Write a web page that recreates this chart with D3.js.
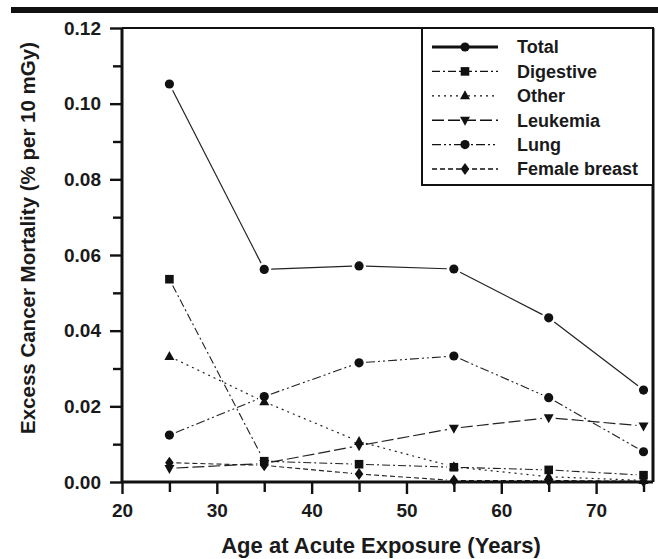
<!DOCTYPE html>
<html><head><meta charset="utf-8">
<script src="https://cdn.jsdelivr.net/npm/d3@7"></script>
<style>
html,body{margin:0;padding:0;background:#fff;}
svg{display:block;}
text{font-family:"Liberation Sans",Arial,sans-serif;font-weight:bold;fill:#1a1a1a;}
</style></head>
<body>
<script>
const ages = [25, 35, 45, 55, 65, 75];
const xTicks = [20, 30, 40, 50, 60, 70];
const yTicks = [0.00, 0.02, 0.04, 0.06, 0.08, 0.10, 0.12];
const yTickLabels = ["0.00", "0.02", "0.04", "0.06", "0.08", "0.10", "0.12"];
const seriesNames = ["Total", "Digestive", "Other", "Leukemia", "Lung", "Female breast"];
const total = [0.1052, 0.0562, 0.0571, 0.0563, 0.0434, 0.0243];
const digestive = [0.0536, 0.0055, 0.0047, 0.0039, 0.0032, 0.0018];
const other = [0.0332, 0.0212, 0.0107, 0.0040, 0.0014, 0.0004];
const leukemia = [0.0036, 0.0049, 0.0096, 0.0142, 0.0170, 0.0148];
const lung = [0.0124, 0.0226, 0.0315, 0.0333, 0.0223, 0.0080];
const femaleBreast = [0.0051, 0.0044, 0.0021, 0.0004, 0.0004, 0.0002];
const xLabel = "Age at Acute Exposure (Years)";
const yLabel = "Excess Cancer Mortality (% per 10 mGy)";

const W = 658, H = 559;
const M = {left: 122, right: 5, top: 28, bottom: 77};
const svg = d3.select("body").append("svg").attr("width", W).attr("height", H);

// top black rule
svg.append("rect").attr("x", 11).attr("y", 7).attr("width", W - 11).attr("height", 6).attr("fill", "#111");

const x = d3.scaleLinear().domain([20, 76]).range([M.left, W - M.right]);
const y = d3.scaleLinear().domain([0, 0.12]).range([H - M.bottom, M.top]);

const styles = [
  {data: total, dash: null, marker: "circle", lw: 1.2, legLw: 3},
  {data: digestive, dash: "8,3,2,3", marker: "square", lw: 1.1, legLw: 1.3},
  {data: other, dash: "2,4", marker: "triUp", lw: 1.2, legLw: 1.3},
  {data: leukemia, dash: "12,4", marker: "triDown", lw: 1.2, legLw: 1.6},
  {data: lung, dash: "9,3,2,3,2,3", marker: "circle", lw: 1.1, legLw: 1.3},
  {data: femaleBreast, dash: "5,3", marker: "diamond", lw: 1.1, legLw: 1.3}
];

function markerPath(type) {
  switch (type) {
    case "circle": return null;
    case "square": return "M-4.3,-4.3H4.3V4.3H-4.3Z";
    case "triUp": return "M0,-5.5L5,3.5L-5,3.5Z";
    case "triDown": return "M0,5.5L5,-3.5L-5,-3.5Z";
    case "diamond": return "M0,-6L4.3,0L0,6L-4.3,0Z";
  }
}
function drawMarker(g, type, cx, cy) {
  if (type === "circle") {
    g.append("circle").attr("cx", cx).attr("cy", cy).attr("r", 4.6).attr("fill", "#111");
  } else {
    g.append("path").attr("d", markerPath(type)).attr("transform", `translate(${cx},${cy})`).attr("fill", "#111");
  }
}

const plot = svg.append("g");
const gap = 7;
styles.forEach(s => {
  const pts = ages.map((a, i) => [x(a), y(s.data[i])]);
  for (let i = 0; i < pts.length - 1; i++) {
    const [x0, y0] = pts[i], [x1, y1] = pts[i + 1];
    const dx = x1 - x0, dy = y1 - y0, L = Math.hypot(dx, dy);
    if (L <= 2 * gap) continue;
    const ux = dx / L, uy = dy / L;
    plot.append("line")
      .attr("x1", x0 + ux * gap).attr("y1", y0 + uy * gap)
      .attr("x2", x1 - ux * gap).attr("y2", y1 - uy * gap)
      .attr("stroke", "#222").attr("stroke-width", s.lw)
      .attr("stroke-dasharray", s.dash);
  }
});
styles.forEach(s => {
  ages.forEach((a, i) => drawMarker(plot, s.marker, x(a), y(s.data[i])));
});

// axes
const xAxis = d3.axisBottom(x).tickValues(xTicks).tickSize(12).tickPadding(10).tickFormat(d3.format("d"));
const gx = svg.append("g").attr("transform", `translate(0,${H - M.bottom})`).call(xAxis);
const xMinor = d3.axisBottom(x).tickValues(ages).tickSize(10).tickFormat("");
const gx2 = svg.append("g").attr("transform", `translate(0,${H - M.bottom})`).call(xMinor);
const yAxis = d3.axisLeft(y).tickValues(yTicks).tickSize(12).tickPadding(9).tickFormat((d, i) => yTickLabels[i]);
const gy = svg.append("g").attr("transform", `translate(${M.left},0)`).call(yAxis);
const yMinor = d3.axisLeft(y).tickValues([0.01, 0.03, 0.05, 0.07, 0.09, 0.11]).tickSize(9).tickFormat("");
const gy2 = svg.append("g").attr("transform", `translate(${M.left},0)`).call(yMinor);
[gx, gx2, gy, gy2].forEach(g => {
  g.select(".domain").remove();
  g.selectAll(".tick line").attr("stroke", "#111").attr("stroke-width", 2.4);
  g.selectAll(".tick text").attr("font-size", 19).attr("font-family", "Liberation Sans, Arial, sans-serif").attr("font-weight", "bold").attr("fill", "#1a1a1a");
});

// frame
svg.append("line").attr("x1", M.left).attr("x2", W - M.right).attr("y1", H - M.bottom).attr("y2", H - M.bottom).attr("stroke", "#111").attr("stroke-width", 3);
svg.append("line").attr("x1", M.left).attr("x2", M.left).attr("y1", M.top).attr("y2", H - M.bottom).attr("stroke", "#111").attr("stroke-width", 3);
svg.append("line").attr("x1", M.left).attr("x2", W - M.right).attr("y1", M.top).attr("y2", M.top).attr("stroke", "#111").attr("stroke-width", 2);
svg.append("line").attr("x1", W - M.right).attr("x2", W - M.right).attr("y1", M.top).attr("y2", H - M.bottom).attr("stroke", "#111").attr("stroke-width", 3);

// legend
const lg = svg.append("g");
lg.append("rect").attr("x", 422).attr("y", M.top).attr("width", W - M.right - 422).attr("height", 157)
  .attr("fill", "#fff").attr("stroke", "#111").attr("stroke-width", 2);
styles.forEach((s, i) => {
  const ly = 47 + i * 24.4;
  lg.append("line").attr("x1", 432).attr("x2", 498).attr("y1", ly).attr("y2", ly)
    .attr("stroke", "#111").attr("stroke-width", s.legLw).attr("stroke-dasharray", s.dash);
  drawMarker(lg, s.marker, 465, ly);
  lg.append("text").attr("x", 517).attr("y", ly).attr("dy", "0.36em").attr("font-size", 18).text(seriesNames[i]);
});

// axis titles
svg.append("text").attr("x", 381).attr("y", 545).attr("dy", "0.36em").attr("text-anchor", "middle").attr("font-size", 22).text(xLabel);
svg.append("text").attr("transform", "translate(28,238) rotate(-90)").attr("dy", "0.36em").attr("text-anchor", "middle").attr("font-size", 20.5).text(yLabel);
</script>
</body></html>
